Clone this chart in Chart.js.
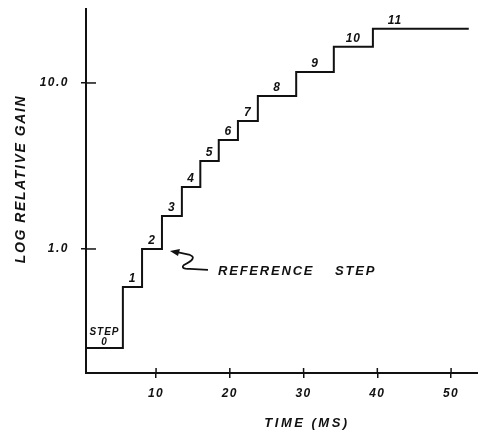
<!DOCTYPE html>
<html>
<head>
<meta charset="utf-8">
<script src="https://cdn.jsdelivr.net/npm/chart.js@4"></script>
<style>
  body { margin: 0; background: #fff; }
  #wrap { width: 478px; height: 430px; }
</style>
</head>
<body>
<div id="wrap"><canvas id="myChart"></canvas></div>
<script>
// data set
var stepNames = ['0', '1', '2', '3', '4', '5', '6', '7', '8', '9', '10', '11'];
var stepStart = [0.5, 5.5, 8.1, 10.8, 13.5, 16.0, 18.5, 21.1, 23.8, 29.0, 34.1, 39.4];
var stepGain = [0.253, 0.59, 1.0, 1.58, 2.36, 3.39, 4.54, 5.9, 8.35, 11.65, 16.5, 21.2];
var lastEnd = 52.4;

var xTickValues = [10, 20, 30, 40, 50];
var yTickValues = [1, 10];
var yTickLabels = ['1.0', '10.0'];

var ink = '#111';
var hand = 'italic bold 12px "Liberation Sans"';

var points = [];
stepStart.forEach((s, i) => points.push({ x: s, y: stepGain[i] }));
points.push({ x: lastEnd, y: stepGain[stepGain.length - 1] });

// crosses through the axes, labels and arrow
const sketch = {
  id: 'sketch',
  beforeDraw(chart) {
    chart.ctx.letterSpacing = '1.5px';
  },
  afterDraw(chart) {
    const ctx = chart.ctx;
    const xs = chart.scales.x, ys = chart.scales.y;
    const area = chart.chartArea;
    ctx.save();
    ctx.strokeStyle = ink;
    ctx.fillStyle = ink;
    ctx.lineWidth = 1.5;

    // inner part of tick marks
    yTickValues.forEach(v => {
      const py = ys.getPixelForValue(v);
      ctx.beginPath();
      ctx.moveTo(area.left, py);
      ctx.lineTo(area.left + 10, py);
      ctx.stroke();
    });
    xTickValues.forEach(v => {
      const px = xs.getPixelForValue(v);
      ctx.beginPath();
      ctx.moveTo(px, area.bottom);
      ctx.lineTo(px, area.bottom - 5);
      ctx.stroke();
    });

    // step numbers
    ctx.textAlign = 'center';
    ctx.textBaseline = 'middle';
    ctx.font = hand;
    ctx.letterSpacing = '1px';
    stepNames.forEach((name, i) => {
      const ps = xs.getPixelForValue(stepStart[i]);
      const pe = xs.getPixelForValue(i + 1 < stepStart.length ? stepStart[i + 1] : lastEnd);
      const px = Math.min((ps + pe) / 2, ps + 22);
      const py = ys.getPixelForValue(stepGain[i]);
      if (i === 0) {
        ctx.font = 'italic bold 10px "Liberation Sans"';
        ctx.fillText('STEP', px, py - 16);
        ctx.fillText(name, px, py - 6);
        ctx.font = hand;
      } else {
        ctx.fillText(name, px, py - 8);
      }
    });

    // reference step arrow
    const tx = xs.getPixelForValue(stepStart[3]) + 8;
    const ty = ys.getPixelForValue(stepGain[2]) + 2;
    ctx.lineWidth = 1.8;
    ctx.beginPath();
    ctx.moveTo(tx + 6, ty + 1);
    ctx.lineTo(tx + 20, ty + 4);
    ctx.quadraticCurveTo(tx + 28, ty + 7, tx + 14, ty + 14);
    ctx.quadraticCurveTo(tx + 10, ty + 18, tx + 20, ty + 18);
    ctx.lineTo(tx + 38, ty + 19);
    ctx.stroke();
    ctx.beginPath();
    ctx.moveTo(tx, ty);
    ctx.lineTo(tx + 10, ty - 2);
    ctx.lineTo(tx + 8, ty + 5);
    ctx.closePath();
    ctx.fill();

    ctx.font = 'italic bold 13px "Liberation Sans"';
    ctx.letterSpacing = '1.8px';
    ctx.textAlign = 'left';
    ctx.fillText('REFERENCE', tx + 48, ty + 20);
    ctx.fillText('STEP', tx + 165, ty + 20);

    // axis titles
    ctx.textAlign = 'center';
    ctx.font = 'italic bold 13px "Liberation Sans"';
    ctx.letterSpacing = '2.5px';
    ctx.fillText('TIME (MS)', 307, 423);

    ctx.translate(21, 179);
    ctx.rotate(-Math.PI / 2);
    ctx.font = 'italic bold 14px "Liberation Sans"';
    ctx.letterSpacing = '1.6px';
    ctx.fillText('LOG RELATIVE GAIN', 0, 0);
    ctx.restore();
  }
};

new Chart('myChart', {
  type: 'line',
  data: {
    datasets: [{
      data: points,
      stepped: 'before',
      borderColor: ink,
      borderWidth: 2,
      pointRadius: 0,
      fill: false
    }]
  },
  options: {
    responsive: true,
    maintainAspectRatio: false,
    animation: false,
    layout: { padding: { top: 9, right: 0, left: 0, bottom: 0 } },
    plugins: {
      legend: { display: false },
      tooltip: { enabled: false }
    },
    scales: {
      x: {
        type: 'linear',
        min: 0.5,
        max: 53.65,
        afterFit: s => { s.height = 57; s.paddingLeft = 0; s.paddingRight = 0; },
        afterBuildTicks: s => { s.ticks = xTickValues.map(v => ({ value: v })); },
        border: { color: ink, width: 2 },
        grid: { drawOnChartArea: false, tickLength: 5, color: ink, lineWidth: 1.5 },
        ticks: {
          color: ink,
          padding: 8,
          maxRotation: 0,
          font: { family: 'Liberation Sans', size: 12, style: 'italic', weight: 'bold' }
        }
      },
      y: {
        type: 'logarithmic',
        min: 0.179,
        max: 27.9,
        afterFit: s => { s.width = 86; s.paddingTop = 0; s.paddingBottom = 0; },
        afterBuildTicks: s => { s.ticks = yTickValues.map(v => ({ value: v })); },
        border: { color: ink, width: 2 },
        grid: { drawOnChartArea: false, tickLength: 5, color: ink, lineWidth: 1.5 },
        ticks: {
          color: ink,
          padding: 12,
          callback: v => yTickLabels[yTickValues.indexOf(v)],
          font: { family: 'Liberation Sans', size: 12, style: 'italic', weight: 'bold' }
        }
      }
    }
  },
  plugins: [sketch]
});
</script>
</body>
</html>
